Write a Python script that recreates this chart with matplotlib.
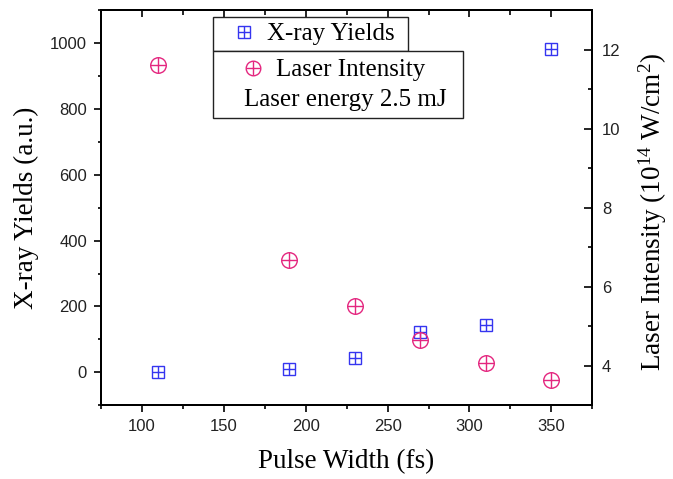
import matplotlib
matplotlib.use("Agg")
import matplotlib.pyplot as plt
from matplotlib.patches import Rectangle
from matplotlib.lines import Line2D
from matplotlib.legend_handler import HandlerTuple

pulse_width = [110, 190, 230, 270, 310, 350]
xray_yields = [0, 11, 45, 124, 143, 982]
laser_intensity = [11.6, 6.68, 5.51, 4.66, 4.08, 3.63]

x_ticks = [100, 150, 200, 250, 300, 350]
y_ticks = [0, 200, 400, 600, 800, 1000]
y2_ticks = [4, 6, 8, 10, 12]

BLUE = "#3535f0"
MAG = "#e4267f"
W, H = 673, 479

plt.rcParams["mathtext.fontset"] = "custom"
plt.rcParams["mathtext.rm"] = "Liberation Serif"
plt.rcParams["mathtext.it"] = "Liberation Serif:italic"

fig = plt.figure(figsize=(W / 100, H / 100), dpi=100)
ax = fig.add_axes([101 / W, 1 - 405.3 / H, (592.3 - 101) / W, (405.3 - 10) / H])
ax2 = ax.twinx()

mk = dict(linestyle="none", fillstyle="none")
ax.plot(pulse_width, xray_yields, marker="s", ms=9.3, mew=1.0, color=BLUE, **mk, zorder=3)
ax.plot(pulse_width, xray_yields, marker="+", ms=9.3, mew=1.0, color=BLUE, linestyle="none", zorder=3)
ax2.plot(pulse_width, laser_intensity, marker="o", ms=11.2, mew=1.0, color=MAG, **mk, zorder=3)
ax2.plot(pulse_width, laser_intensity, marker="+", ms=11.2, mew=1.0, color=MAG, linestyle="none", zorder=3)

ax.set_xlim(75, 375)
ax.set_ylim(-100, 1100)
ax2.set_ylim(3, 13)
ax.set_xticks(x_ticks)
ax.set_xticks([t for t in range(75, 376, 25) if t not in x_ticks], minor=True)
ax.set_yticks(y_ticks)
ax.set_yticks([-100] + [t for t in range(100, 1101, 200)], minor=True)
ax2.set_yticks(y2_ticks)
ax2.set_yticks([3, 5, 7, 9, 11, 13], minor=True)

for a in (ax, ax2):
    for s in a.spines.values():
        s.set_linewidth(1.4)
ax.tick_params(axis="x", which="both", direction="out", top=False, width=1.2, pad=5)
ax.tick_params(axis="x", which="major", length=5)
ax.tick_params(axis="x", which="minor", length=3)
ax.tick_params(axis="y", which="both", direction="out", right=False, width=1.2, pad=5)
ax.tick_params(axis="y", which="major", length=5)
ax.tick_params(axis="y", which="minor", length=2.5)
ax2.tick_params(axis="y", which="both", direction="in", width=1.2, pad=7)
ax2.tick_params(axis="y", which="major", length=5.5)
ax2.tick_params(axis="y", which="minor", length=3)
for lab in ax.get_xticklabels() + ax.get_yticklabels() + ax2.get_yticklabels():
    lab.set_fontfamily("Liberation Sans")
    lab.set_fontsize(12)
    lab.set_color("#222222")

sec = ax.secondary_xaxis("top")
sec.set_xticks(x_ticks)
sec.set_xticks([t for t in range(75, 376, 25) if t not in x_ticks], minor=True)
sec.tick_params(axis="x", which="both", direction="in", labeltop=False, width=1.2)
sec.tick_params(axis="x", which="major", length=5)
sec.tick_params(axis="x", which="minor", length=3.5)
sec.spines["top"].set_linewidth(1.4)

serif = "Liberation Serif"
fig.text(346 / W, 1 - 462 / H, "Pulse Width (fs)", family=serif, size=19.5, ha="center", va="center")
fig.text(26 / W, 1 - 208 / H, "X-ray Yields (a.u.)", family=serif, size=19.5, ha="center", va="center", rotation=90)
fig.text(653 / W, 1 - 212 / H, r"Laser Intensity (10$^{14}$ W/cm$^{2}$)", family=serif, size=19.5,
         ha="center", va="center", rotation=90)

# legend boxes
def fbox(x0, y0, x1, y1):
    fig.patches.append(Rectangle((x0 / W, 1 - y1 / H), (x1 - x0) / W, (y1 - y0) / H,
                                 transform=fig.transFigure, facecolor="white", edgecolor="#222222",
                                 linewidth=1.0, zorder=5))

fbox(213, 17, 408, 51)
fbox(213, 51, 463, 118)

h_x = (Line2D([], [], marker="s", ms=8.5, mew=1.0, color=BLUE, **mk),
       Line2D([], [], marker="+", ms=8.5, mew=1.0, color=BLUE, linestyle="none"))
h_l = (Line2D([], [], marker="o", ms=10.5, mew=1.0, color=MAG, **mk),
       Line2D([], [], marker="+", ms=10.5, mew=1.0, color=MAG, linestyle="none"))

lg1 = fig.legend([h_x], ["X-ray Yields"], handler_map={tuple: HandlerTuple(ndivide=1)},
                 loc="center left", bbox_to_anchor=(231 / W, 1 - 34 / H), frameon=False,
                 prop=dict(family=serif, size=18), handlelength=1.0, handletextpad=0.45,
                 borderpad=0, borderaxespad=0)
lg1.set_zorder(6)
lg2 = fig.legend([h_l], ["Laser Intensity"], handler_map={tuple: HandlerTuple(ndivide=1)},
                 loc="center left", bbox_to_anchor=(240 / W, 1 - 70 / H), frameon=False,
                 prop=dict(family=serif, size=18), handlelength=1.0, handletextpad=0.45,
                 borderpad=0, borderaxespad=0)
lg2.set_zorder(6)
fig.text(244 / W, 1 - 100 / H, "Laser energy 2.5 mJ", family=serif, size=18, ha="left", va="center",
         zorder=6)

fig.savefig("out.png", dpi=100)
